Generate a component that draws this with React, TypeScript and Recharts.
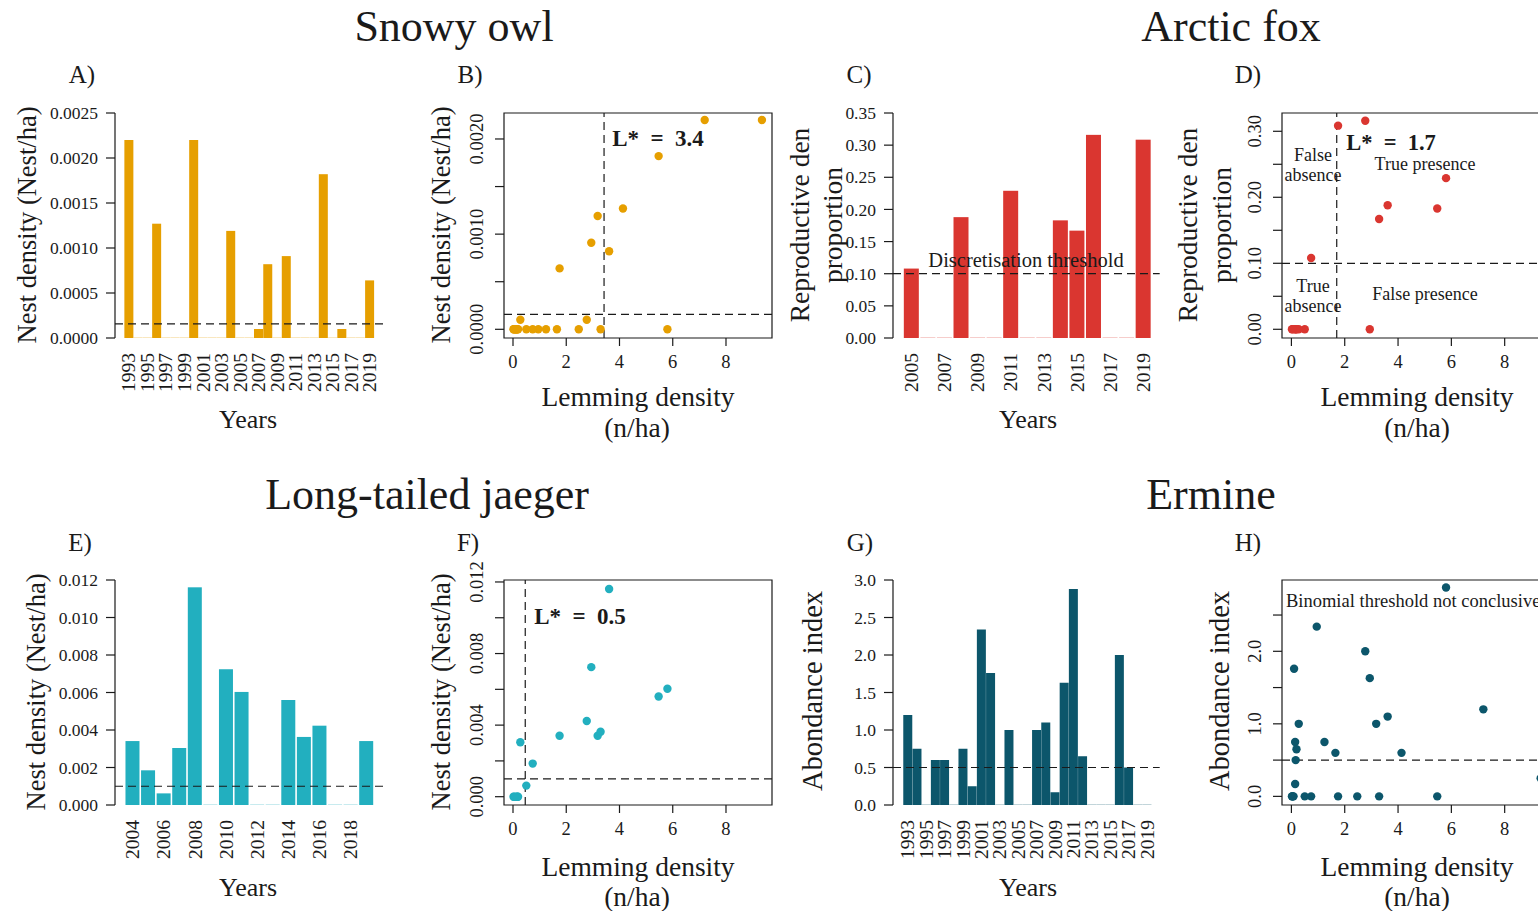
import React from "react";
import {
  Bar,
  BarChart,
  ReferenceArea,
  ReferenceLine,
  Scatter,
  ScatterChart,
  XAxis,
  YAxis,
} from "recharts";

const FONT = '"Liberation Serif", "Times New Roman", serif';
const INK = "#1a1a1a";
const DASH = "8 5";

// ---- data ----
const surveyYears = [
  1993, 1994, 1995, 1996, 1997, 1998, 1999, 2000, 2001, 2002, 2003, 2004, 2005, 2006,
  2007, 2008, 2009, 2010, 2011, 2012, 2013, 2014, 2015, 2016, 2017, 2018, 2019,
];
// lemming density (n/ha), same years as surveyYears
const lemmingDensity = [
  7.2, 1.24, 2.47, 4.13, 1.65, 0.08, 0.14, 9.35, 0.95, 0.1, 0.03, 3.18, 0.74, 0.5,
  0.275, 3.61, 0.14, 2.94, 5.8, 0.19, 0.02, 5.47, 3.29, 2.77, 0.16, 0.05, 1.75,
];
// snowy owl nest density, same years as surveyYears
const owlDensity = [
  0.0022, 0, 0, 0.00127, 0, 0, 0, 0.0022, 0, 0, 0, 0.00119, 0, 0, 0.0001, 0.00082, 0,
  0.00091, 0, 0, 0, 0.00182, 0, 0.0001, 0, 0, 0.00064,
];
// ermine abundance index, same years as surveyYears
const ermineIndex = [
  1.2, 0.75, 0, 0.6, 0.6, 0, 0.75, 0.25, 2.34, 1.76, 0, 1.0, 0, 0, 1.0, 1.1, 0.17, 1.63,
  2.88, 0.65, 0, 0, 0, 2.0, 0.5, 0, 0,
];
const foxYears = [2005, 2006, 2007, 2008, 2009, 2010, 2011, 2012, 2013, 2014, 2015, 2016, 2017, 2018, 2019];
const foxProportion = [0.108, 0, 0, 0.188, 0, 0, 0.229, 0, 0, 0.183, 0.167, 0.316, 0, 0, 0.3085];
const jaegerYears = [2004, 2005, 2006, 2007, 2008, 2009, 2010, 2011, 2012, 2013, 2014, 2015, 2016, 2017, 2018, 2019];
const jaegerDensity = [
  0.00341, 0.00185, 0.00062, 0.00304, 0.01161, 0, 0.00724, 0.00603, 0, 0, 0.0056, 0.00363,
  0.00423, 0, 0, 0.00341,
];

const owlThreshold = 0.000157;
const owlLStar = 3.42;
const foxThreshold = 0.1;
const foxLStar = 1.7;
const jaegerThreshold = 0.001;
const jaegerLStar = 0.46;
const ermineThreshold = 0.5;

const owlTicks = [0, 0.0005, 0.001, 0.0015, 0.002, 0.0025];
const foxTicks = [0, 0.05, 0.1, 0.15, 0.2, 0.25, 0.3, 0.35];
const jaegerTicks = [0, 0.002, 0.004, 0.006, 0.008, 0.01, 0.012];
const ermineTicks = [0, 0.5, 1, 1.5, 2, 2.5, 3];
const lemmingTicks = [0, 2, 4, 6, 8];

const COLORS = {
  owl: "#E69F00",
  fox: "#DA3630",
  jaeger: "#22AFBF",
  ermine: "#0C566B",
};

const lemmingOf = (year: number) => lemmingDensity[surveyYears.indexOf(year)];

// ---- small render helpers ----
function T({
  x,
  y,
  s,
  children,
  rot,
  bold,
  left,
}: {
  x: number;
  y: number;
  s: number;
  children: React.ReactNode;
  rot?: boolean;
  bold?: boolean;
  left?: boolean;
}) {
  return (
    <div
      style={{
        position: "absolute",
        left: x,
        top: y,
        transform: `translate(${left ? "0" : "-50%"}, -50%)${rot ? " rotate(-90deg)" : ""}`,
        fontFamily: FONT,
        fontSize: s,
        fontWeight: bold ? 700 : 400,
        lineHeight: 1.1,
        whiteSpace: "nowrap",
        textAlign: "center",
        color: INK,
      }}
    >
      {children}
    </div>
  );
}

const barShape = (color: string) => (p: any) => {
  if (!p.height || p.height < 0.5) {
    return <rect x={p.x} y={p.y - 1} width={p.width} height={1.5} fill={color} fillOpacity={0.25} />;
  }
  return <rect x={p.x} y={p.y} width={p.width} height={p.height} fill={color} />;
};

function YearTick(props: any) {
  const { x, y, payload } = props;
  const ty = y + 15;
  return (
    <text
      x={x}
      y={ty}
      dy="0.35em"
      transform={`rotate(-90, ${x}, ${ty})`}
      textAnchor="end"
      fontSize={19.5}
      fontFamily={FONT}
      fill={INK}
    >
      {payload.value}
    </text>
  );
}

function BarYTick(props: any) {
  const { x, y, payload, digits } = props;
  return (
    <text x={x - 8} y={y} dy="0.35em" textAnchor="end" fontSize={17.5} fontFamily={FONT} fill={INK}>
      {Number(payload.value).toFixed(digits)}
    </text>
  );
}

function NumXTick(props: any) {
  const { x, y, payload } = props;
  return (
    <text x={x} y={y + 22} textAnchor="middle" fontSize={18.5} fontFamily={FONT} fill={INK}>
      {payload.value}
    </text>
  );
}

function RotYTick(props: any) {
  const { x, y, payload, labels, digits } = props;
  const v = Number(payload.value);
  if (!labels.some((l: number) => Math.abs(l - v) < 1e-9)) return <g />;
  const tx = x - 12;
  return (
    <text
      x={tx}
      y={y}
      transform={`rotate(-90, ${tx}, ${y})`}
      textAnchor="middle"
      fontSize={18.5}
      fontFamily={FONT}
      fill={INK}
    >
      {v.toFixed(digits)}
    </text>
  );
}

// ---- panels ----
interface BarPanelProps {
  x0: number;
  y0: number;
  plotW: number;
  years: number[];
  values: number[];
  color: string;
  ticks: number[];
  digits: number;
  threshold: number;
  padL: number;
  padR: number;
  gap: string;
}

function YearBars({ x0, y0, plotW, years, values, color, ticks, digits, threshold, padL, padR, gap }: BarPanelProps) {
  const data = years.map((yr, i) => ({ year: String(yr), value: values[i] }));
  const yw = 70;
  const top = 10;
  return (
    <div style={{ position: "absolute", left: x0 - yw, top: y0 - top }}>
      <BarChart
        width={yw + plotW + 10}
        height={top + 225 + 75}
        data={data}
        margin={{ top, right: 10, bottom: 0, left: 0 }}
        barCategoryGap={gap}
      >
        <XAxis
          dataKey="year"
          type="category"
          interval={1}
          tickSize={0}
          tickMargin={0}
          axisLine={false}
          tickLine={false}
          height={75}
          padding={{ left: padL, right: padR }}
          tick={(p: any) => <YearTick {...p} />}
        />
        <YAxis
          type="number"
          domain={[0, ticks[ticks.length - 1]]}
          ticks={ticks}
          interval={0}
          allowDataOverflow
          width={yw}
          tickSize={9}
          tickMargin={0}
          axisLine={{ stroke: INK, strokeWidth: 1.2 }}
          tickLine={{ stroke: INK, strokeWidth: 1.2 }}
          tick={(p: any) => <BarYTick {...p} digits={digits} />}
        />
        <Bar dataKey="value" isAnimationActive={false} shape={barShape(color)} />
        <ReferenceLine y={threshold} stroke={INK} strokeWidth={1.2} strokeDasharray={DASH} />
      </BarChart>
    </div>
  );
}

interface ScatterPanelProps {
  x0: number;
  y0: number;
  points: { x: number; y: number }[];
  color: string;
  xDomain: [number, number];
  yDomain: [number, number];
  yTicks: number[];
  yLabels: number[];
  digits: number;
  hLine: number;
  vLine?: number;
}

function LemmingScatter({ x0, y0, points, color, xDomain, yDomain, yTicks, yLabels, digits, hLine, vLine }: ScatterPanelProps) {
  const yw = 50;
  const top = 30;
  return (
    <div style={{ position: "absolute", left: x0 - yw, top: y0 - top }}>
      <ScatterChart width={yw + 268 + 10} height={top + 225 + 50} margin={{ top, right: 10, bottom: 0, left: 0 }}>
        <XAxis
          type="number"
          dataKey="x"
          domain={xDomain}
          ticks={lemmingTicks}
          interval={0}
          allowDataOverflow
          height={50}
          tickSize={8}
          tickMargin={0}
          axisLine={false}
          tickLine={{ stroke: INK, strokeWidth: 1.2 }}
          tick={(p: any) => <NumXTick {...p} />}
        />
        <YAxis
          type="number"
          dataKey="y"
          domain={yDomain}
          ticks={yTicks}
          interval={0}
          allowDataOverflow
          width={yw}
          tickSize={9}
          tickMargin={0}
          axisLine={false}
          tickLine={{ stroke: INK, strokeWidth: 1.2 }}
          tick={(p: any) => <RotYTick {...p} labels={yLabels} digits={digits} />}
        />
        <ReferenceArea
          x1={xDomain[0]}
          x2={xDomain[1]}
          y1={yDomain[0]}
          y2={yDomain[1]}
          fill="none"
          stroke={INK}
          strokeWidth={1.2}
        />
        <ReferenceLine y={hLine} stroke={INK} strokeWidth={1.2} strokeDasharray={DASH} />
        {vLine !== undefined && (
          <ReferenceLine x={vLine} stroke={INK} strokeWidth={1.2} strokeDasharray={DASH} />
        )}
        <Scatter
          data={points}
          isAnimationActive={false}
          shape={(p: any) => <circle cx={p.cx} cy={p.cy} r={4.2} fill={color} />}
        />
      </ScatterChart>
    </div>
  );
}

export default function App() {
  const owlPts = surveyYears.map((yr, i) => ({ x: lemmingDensity[i], y: owlDensity[i] }));
  const erminePts = surveyYears.map((yr, i) => ({ x: lemmingDensity[i], y: ermineIndex[i] }));
  const foxPts = foxYears.map((yr, i) => ({ x: lemmingOf(yr), y: foxProportion[i] }));
  const jaegerPts = jaegerYears.map((yr, i) => ({ x: lemmingOf(yr), y: jaegerDensity[i] }));

  return (
    <div
      style={{
        position: "absolute",
        left: 0,
        top: 0,
        width: 1538,
        height: 911,
        overflow: "hidden",
        background: "#fff",
      }}
    >
      <YearBars
        x0={115} y0={112.7} plotW={268}
        years={surveyYears} values={owlDensity} color={COLORS.owl}
        ticks={owlTicks} digits={4} threshold={owlThreshold}
        padL={9} padR={9} gap="4%"
      />
      <LemmingScatter
        x0={504.3} y0={112.7} points={owlPts} color={COLORS.owl}
        xDomain={[-0.338, 9.728]} yDomain={[-0.0000914, 0.002273]}
        yTicks={[0, 0.0005, 0.001, 0.0015, 0.002]} yLabels={[0, 0.001, 0.002]} digits={4}
        hLine={owlThreshold} vLine={owlLStar}
      />
      <YearBars
        x0={893.3} y0={112.7} plotW={266.7}
        years={foxYears} values={foxProportion} color={COLORS.fox}
        ticks={foxTicks} digits={2} threshold={foxThreshold}
        padL={10} padR={8.3} gap="5%"
      />
      <LemmingScatter
        x0={1282.3} y0={112.7} points={foxPts} color={COLORS.fox}
        xDomain={[-0.353, 9.70]} yDomain={[-0.0132, 0.3277]}
        yTicks={[0, 0.05, 0.1, 0.15, 0.2, 0.25, 0.3]} yLabels={[0, 0.1, 0.2, 0.3]} digits={2}
        hLine={foxThreshold} vLine={foxLStar}
      />
      <YearBars
        x0={115} y0={580} plotW={268}
        years={jaegerYears} values={jaegerDensity} color={COLORS.jaeger}
        ticks={jaegerTicks} digits={3} threshold={jaegerThreshold}
        padL={9.7} padR={9} gap="5%"
      />
      <LemmingScatter
        x0={504.3} y0={580} points={jaegerPts} color={COLORS.jaeger}
        xDomain={[-0.338, 9.728]} yDomain={[-0.000464, 0.01211]}
        yTicks={[0, 0.002, 0.004, 0.006, 0.008, 0.01, 0.012]} yLabels={[0, 0.004, 0.008, 0.012]} digits={3}
        hLine={jaegerThreshold} vLine={jaegerLStar}
      />
      <YearBars
        x0={893.3} y0={580} plotW={266.7}
        years={surveyYears} values={ermineIndex} color={COLORS.ermine}
        ticks={ermineTicks} digits={1} threshold={ermineThreshold}
        padL={10} padR={8.3} gap="3%"
      />
      <LemmingScatter
        x0={1282.3} y0={580} points={erminePts} color={COLORS.ermine}
        xDomain={[-0.353, 9.70]} yDomain={[-0.119, 2.983]}
        yTicks={[0, 0.5, 1, 1.5, 2, 2.5]} yLabels={[0, 1, 2]} digits={1}
        hLine={ermineThreshold}
      />

      {/* titles */}
      <T x={454} y={27} s={44}>Snowy owl</T>
      <T x={1231} y={27} s={44}>Arctic fox</T>
      <T x={427} y={495} s={44}>Long-tailed jaeger</T>
      <T x={1211} y={495} s={44}>Ermine</T>

      {/* panel letters */}
      <T x={82} y={75} s={25}>A)</T>
      <T x={470} y={75} s={25}>B)</T>
      <T x={859} y={75} s={25}>C)</T>
      <T x={1248} y={75} s={25}>D)</T>
      <T x={80} y={543} s={25}>E)</T>
      <T x={468} y={543} s={25}>F)</T>
      <T x={860} y={543} s={25}>G)</T>
      <T x={1248} y={543} s={25}>H)</T>

      {/* y titles */}
      <T x={28} y={225} s={26.5} rot>Nest density (Nest/ha)</T>
      <T x={442} y={225} s={26.5} rot>Nest density (Nest/ha)</T>
      <T x={800} y={225} s={27.5} rot>Reproductive den</T>
      <T x={833} y={225} s={27.5} rot>proportion</T>
      <T x={1188} y={225} s={27.5} rot>Reproductive den</T>
      <T x={1222} y={225} s={27.5} rot>proportion</T>
      <T x={37} y={692} s={26.5} rot>Nest density (Nest/ha)</T>
      <T x={442} y={692} s={26.5} rot>Nest density (Nest/ha)</T>
      <T x={813} y={691} s={28.5} rot>Abondance index</T>
      <T x={1220} y={691} s={28.5} rot>Abondance index</T>

      {/* x titles */}
      <T x={248} y={420} s={26}>Years</T>
      <T x={1028} y={420} s={26}>Years</T>
      <T x={248} y={888} s={26}>Years</T>
      <T x={1028} y={888} s={26}>Years</T>
      <T x={638} y={397} s={27.5}>Lemming density</T>
      <T x={637} y={428} s={27.5}>(n/ha)</T>
      <T x={1417} y={397} s={27.5}>Lemming density</T>
      <T x={1417} y={428} s={27.5}>(n/ha)</T>
      <T x={638} y={867} s={27.5}>Lemming density</T>
      <T x={637} y={897} s={27.5}>(n/ha)</T>
      <T x={1417} y={867} s={27.5}>Lemming density</T>
      <T x={1417} y={897} s={27.5}>(n/ha)</T>

      {/* annotations */}
      <T x={658} y={139} s={23} bold>L*{"\u2002"}={"\u2002"}3.4</T>
      <T x={1391} y={143} s={22.5} bold>L*{"\u2002"}={"\u2002"}1.7</T>
      <T x={580} y={617} s={23} bold>L*{"\u2002"}={"\u2002"}0.5</T>
      <T x={1026} y={260} s={20.5}>Discretisation threshold</T>
      <T x={1313} y={166} s={18}>False<br />absence</T>
      <T x={1425} y={165} s={18}>True presence</T>
      <T x={1313} y={297} s={18}>True<br />absence</T>
      <T x={1425} y={295} s={18}>False presence</T>
      <T x={1286} y={601} s={18.5} left>Binomial threshold not conclusive</T>
    </div>
  );
}
